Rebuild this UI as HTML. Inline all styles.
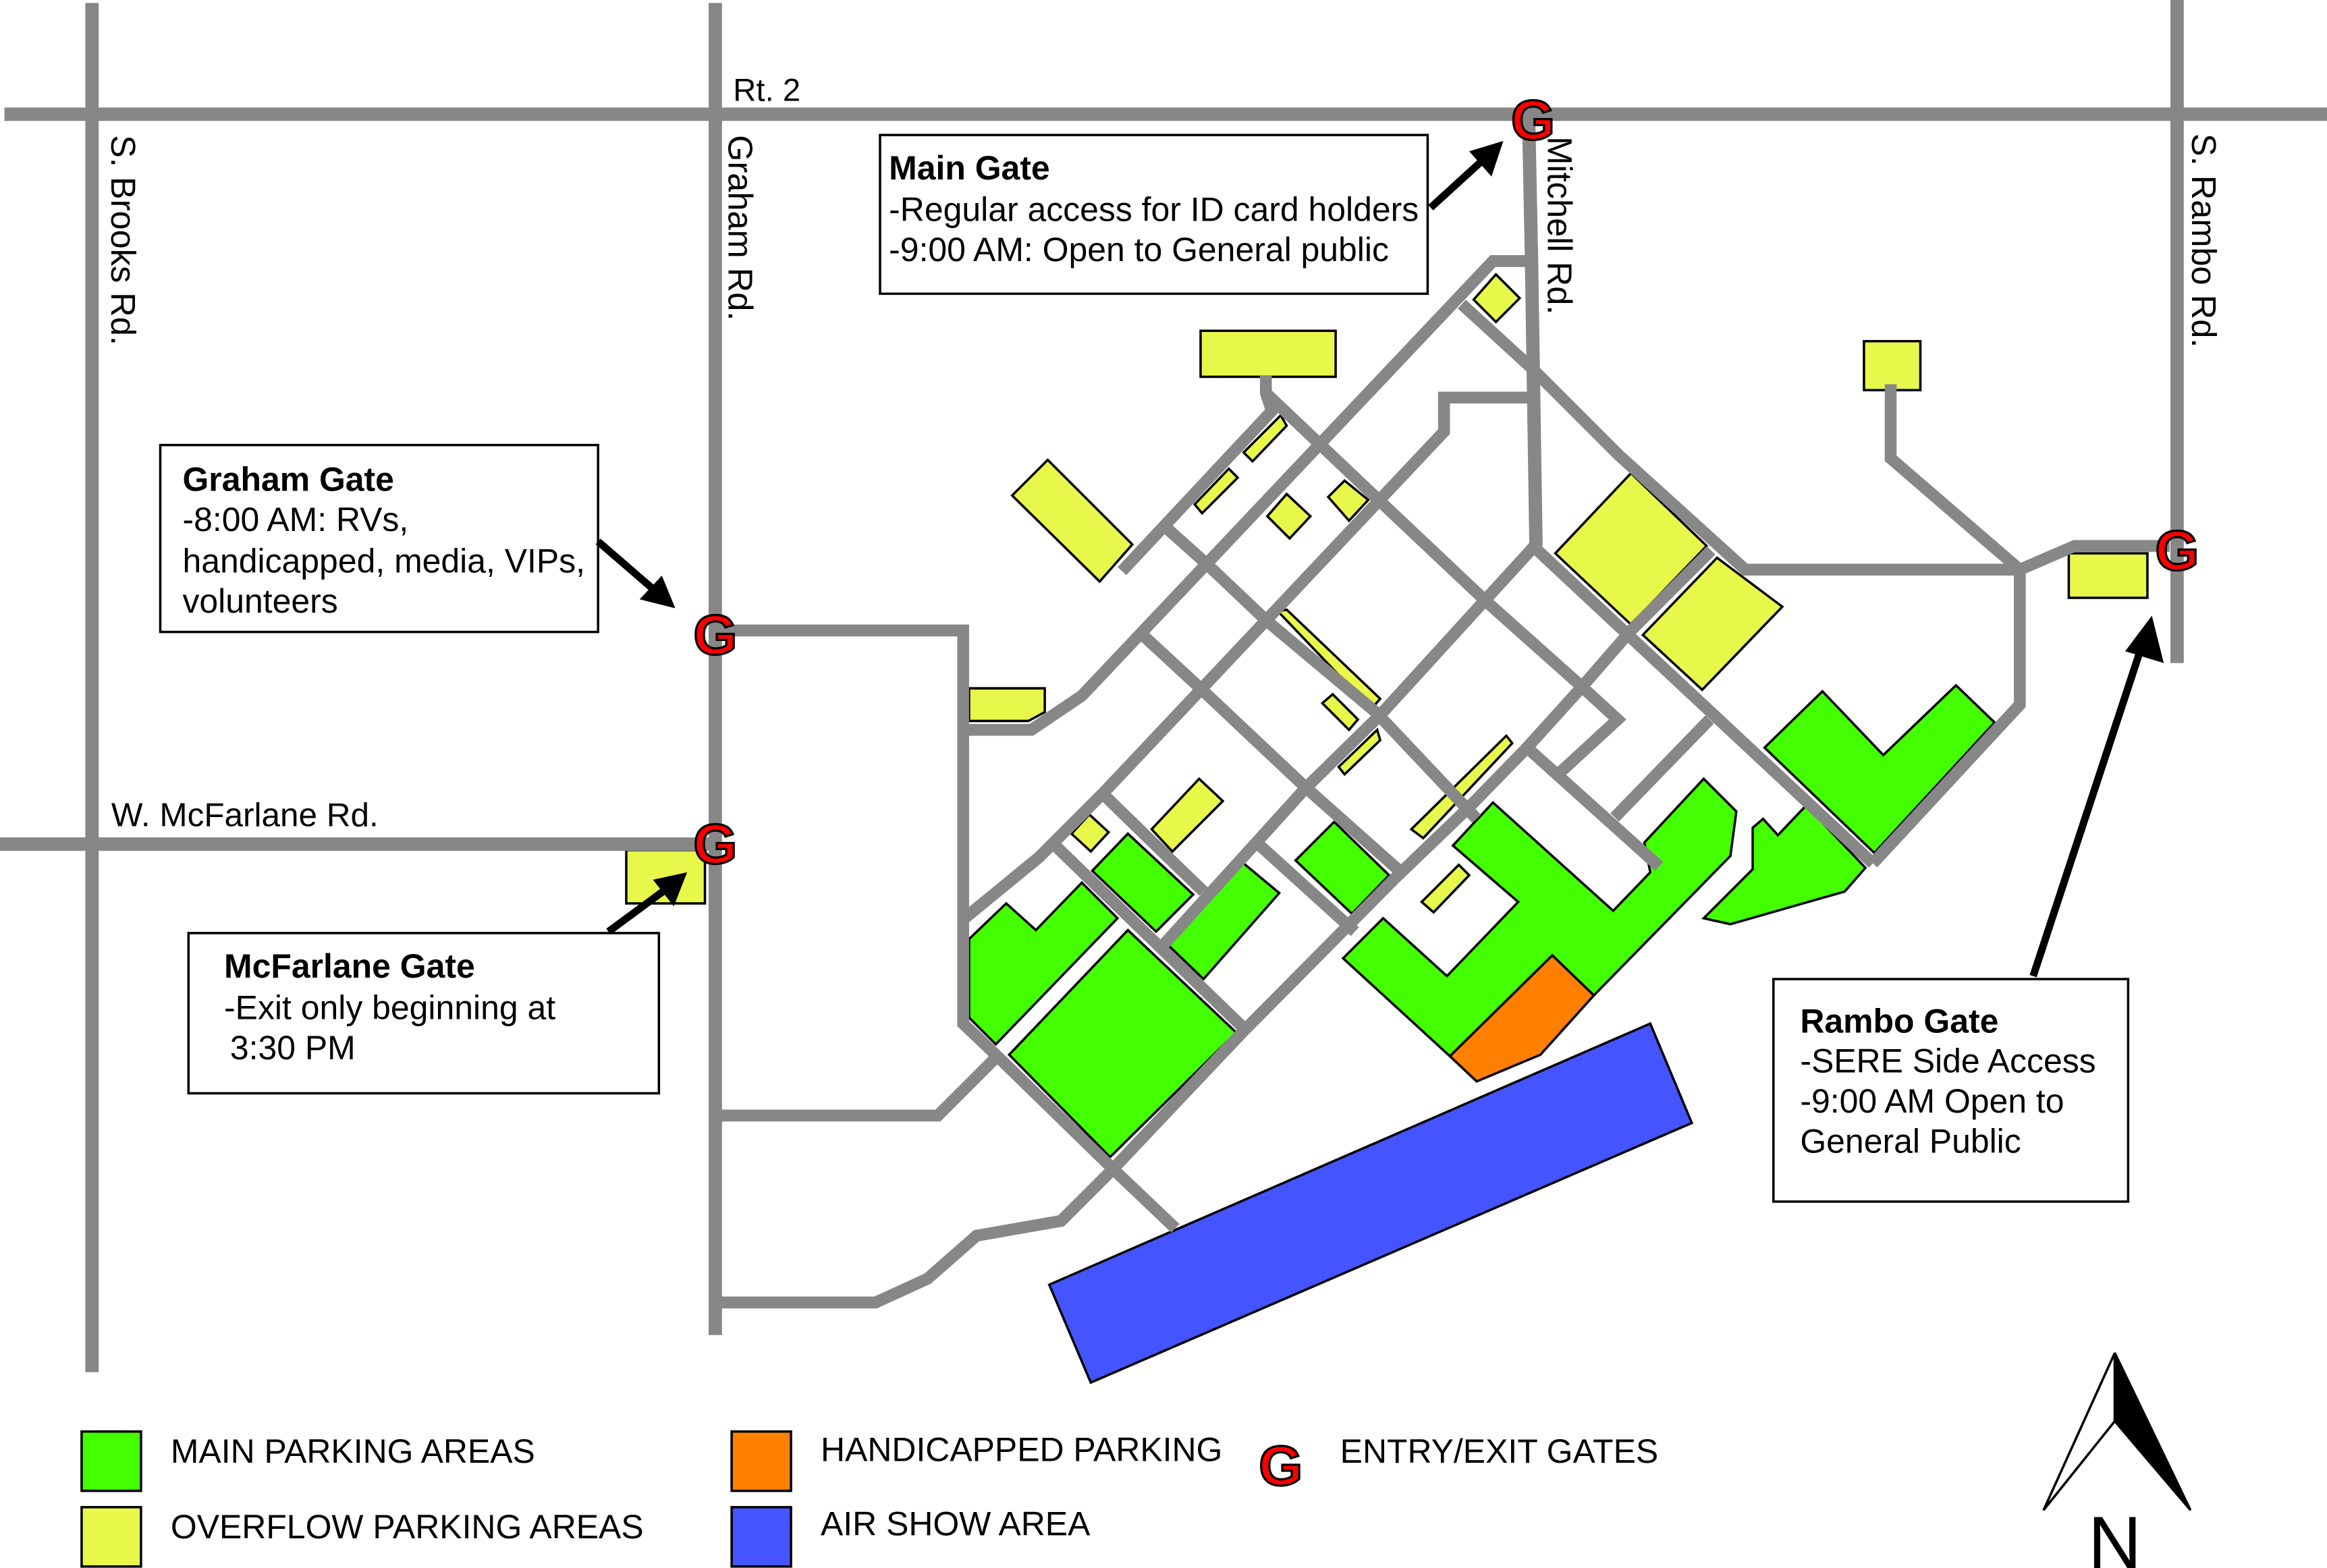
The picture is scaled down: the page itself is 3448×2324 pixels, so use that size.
<!DOCTYPE html>
<html><head><meta charset="utf-8"><style>
html,body{margin:0;padding:0;background:#fff;}
svg{display:block;}
text{font-family:"Liberation Sans",Arial,sans-serif;}
</style></head><body>
<svg xmlns="http://www.w3.org/2000/svg" width="3448" height="2324" viewBox="0 0 1568 1057" preserveAspectRatio="none">
<rect width="1568" height="1057" fill="#fff"/>
<g stroke="#000" stroke-width="1.6" stroke-linejoin="miter">
<g fill="#e8f84a">
<rect x="809" y="223" width="91" height="31"/>
<polygon points="993,202 1008,185 1024,201 1008,217"/>
<polygon points="682,334 706,310 763,367 741,392"/>
<polygon points="838,305 863,280 867,287 844,311"/>
<polygon points="805,340 828,316 834,322 810,346"/>
<polygon points="854,348 867,333 883,348 869,363"/>
<polygon points="895,335 906,324 922,337 909,351"/>
<polygon points="861,412 867,411 930,471 924,478"/>
<polygon points="891,474 898,468 915,485 909,492"/>
<polygon points="902,517 928,492 930,499 906,522"/>
<polygon points="951,559 1015,496 1019,501 959,565"/>
<polygon points="653,464 704,464 704,480 693,486 653,486"/>
<polygon points="722,562 734,549 747,561 735,574"/>
<polygon points="776,559 808,525 824,540 790,574"/>
<polygon points="958,608 983,583 990,590 966,615"/>
<rect x="1256" y="230" width="38" height="33"/>
<rect x="1394" y="373" width="53" height="30"/>
<polygon points="1048,373 1099,319 1150,368 1099,421"/>
<polygon points="1107,428 1157,376 1201,409 1147,465"/>
<rect x="422" y="573" width="53" height="36"/>
</g>
<g fill="#44ff00">
<polygon points="653,633 678,609 698,627 729,595 753,619 671,704 653,686"/>
<polygon points="680,711 760,627 833,696 748,780"/>
<polygon points="736,587 760,562 804,603 779,628"/>
<polygon points="786,636 838,582 862,602 811,660"/>
<polygon points="873,580 899,554 936,590 911,616"/>
<polygon points="905,646 932,619 975,658 1023,608 979,570 1006,541 1087,614 1112,588 1108,568 1148,525 1170,547 1166,577 1074,671 1046,644 977,712"/>
<polygon points="1189,504 1228,466 1269,509 1318,462 1344,487 1263,575"/>
<polygon points="1148,619 1181,586 1181,558 1188,552 1198,563 1217,543 1257,585 1243,601 1166,623"/>
</g>
<polygon fill="#ff8000" points="977,712 1046,644 1074,671 1038,711 995,729"/>
<polygon fill="#4455ff" points="707,866 1112,690 1140,757 735,932"/>
</g>
<g fill="none" stroke="#878787" stroke-width="9" stroke-linejoin="miter" stroke-linecap="butt">
<line x1="3" y1="77" x2="1568" y2="77"/>
<line x1="62" y1="2" x2="62" y2="925"/>
<line x1="482" y1="2" x2="482" y2="900"/>
<line x1="0" y1="569" x2="482" y2="569"/>
<line x1="1467" y1="0" x2="1467" y2="447"/>
<polyline points="1030,77 1032,176 1035,368"/>
</g>
<g fill="none" stroke="#878787" stroke-width="8" stroke-linejoin="miter" stroke-linecap="butt">
<polyline points="482,425 649,425 649,690 672,712 750,788 792,828"/>
<polyline points="482,752 632,752 672,712"/>
<polyline points="482,878 590,878 625,862 658,833 715,823 750,788"/>
<polyline points="1032,176 1006,176 729,469 695,492 649,492"/>
<polyline points="1031,268 973,268 973,291 744,534 700,578 650,619"/>
<polyline points="756,385 857,277 853,265 853,253"/>
<polyline points="985,205 1033,249 1091,307 1176,384 1361,384"/>
<polyline points="1274,259 1274,309 1361,384 1398,368 1462,368"/>
<polyline points="1361,384 1361,475 1262,582"/>
<polyline points="1035,370 1262,582"/>
<polyline points="853,265 930,338 1001,405 1066,463 1090,485 1052,520"/>
<polyline points="785,355 814,381 853,418 927,480 995,552"/>
<polyline points="771,429 811,466 880,531 943,587"/>
<polyline points="744,536 782,573 811,601"/>
<polyline points="711,570 838,693"/>
<polyline points="849,570 913,628"/>
<polyline points="1029,504 1118,584"/>
<polyline points="1035,367 930,482 880,531 783,638"/>
<polyline points="1153,371 1099,425 1066,463 1028,505 990,544 940,592 837,696 750,788"/>
<polyline points="1152,485 1088,551"/>
</g>
<g fill="#fff" stroke="#000" stroke-width="1.6">
<rect x="593" y="91" width="369" height="107"/>
<rect x="108" y="300" width="295" height="126"/>
<rect x="127" y="629" width="317" height="108"/>
<rect x="1195" y="660" width="239" height="150"/>
</g>
<g stroke="#000" stroke-width="5" fill="none">
<line x1="964" y1="140" x2="998" y2="109"/>
<line x1="403" y1="365" x2="440" y2="397"/>
<line x1="410" y1="628" x2="448" y2="600"/>
<line x1="1370" y1="658" x2="1443" y2="436"/>
</g>
<g fill="#000">
<polygon points="1013,95 1005,119 990,102"/>
<polygon points="455,410 431,404 446,388"/>
<polygon points="463,588 454,611 440,593"/>
<polygon points="1450,415 1458,447 1432,439"/>
</g>
<g font-size="22.7" fill="#000">
<text x="599" y="121" font-weight="bold">Main Gate</text>
<text x="599" y="149">-Regular access for ID card holders</text>
<text x="599" y="176">-9:00 AM: Open to General public</text>
<text x="123" y="331" font-weight="bold">Graham Gate</text>
<text x="123" y="358">-8:00 AM: RVs,</text>
<text x="123" y="386">handicapped, media, VIPs,</text>
<text x="123" y="413">volunteers</text>
<text x="151" y="659" font-weight="bold">McFarlane Gate</text>
<text x="151" y="687">-Exit only beginning at</text>
<text x="155" y="714"> 3:30 PM</text>
<text x="1213" y="696" font-weight="bold">Rambo Gate</text>
<text x="1213" y="723">-SERE Side Access</text>
<text x="1213" y="750">-9:00 AM Open to</text>
<text x="1213" y="777">General Public</text>
<text x="494" y="68" font-size="21.5">Rt. 2</text>
<text x="75" y="557" font-size="22.5">W. McFarlane Rd.</text>
<text font-size="23" transform="translate(75,91) rotate(90)">S. Brooks Rd.</text>
<text font-size="23" transform="translate(491,91) rotate(90)">Graham Rd.</text>
<text font-size="23" transform="translate(1043,92) rotate(90)">Mitchell Rd.</text>
<text font-size="23" transform="translate(1477,90) rotate(90)">S. Rambo Rd.</text>
</g>
<g font-size="38" font-weight="bold" fill="#ff0000" stroke="#000" stroke-width="1.5" text-anchor="middle">
<text x="1033" y="94">G</text>
<text x="482" y="441">G</text>
<text x="482" y="582">G</text>
<text x="1467" y="384">G</text>
<text x="863" y="1001">G</text>
</g>
<g stroke="#000" stroke-width="1.6">
<rect x="55" y="965" width="40" height="40" fill="#44ff00"/>
<rect x="55" y="1016" width="40" height="40" fill="#e8f84a"/>
<rect x="493" y="965" width="40" height="40" fill="#ff8000"/>
<rect x="493" y="1016" width="40" height="40" fill="#4455ff"/>
</g>
<g font-size="22.7" fill="#000">
<text x="115" y="986">MAIN PARKING AREAS</text>
<text x="115" y="1037">OVERFLOW PARKING AREAS</text>
<text x="553" y="985">HANDICAPPED PARKING</text>
<text x="553" y="1035">AIR SHOW AREA</text>
<text x="903" y="986">ENTRY/EXIT GATES</text>
</g>
<polygon points="1425,912 1377,1018 1425,958" fill="#fff" stroke="#000" stroke-width="1.6"/>
<polygon points="1425,912 1476,1018 1425,958" fill="#000" stroke="#000" stroke-width="1.6"/>
<text x="1425" y="1057" font-size="50" text-anchor="middle" fill="#000">N</text>
</svg>
</body></html>
